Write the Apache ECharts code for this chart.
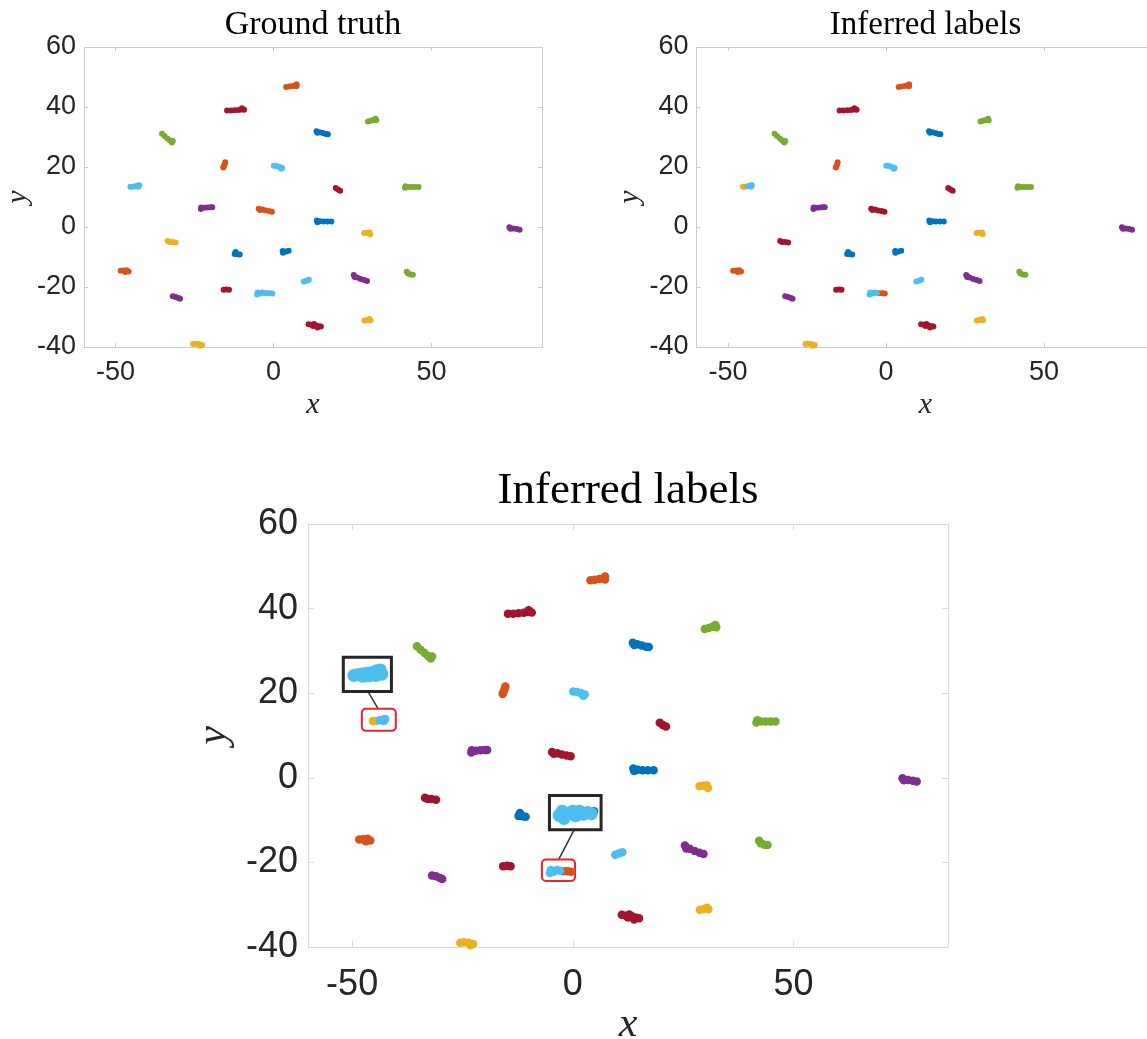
<!DOCTYPE html>
<html><head><meta charset="utf-8">
<script src="https://cdn.jsdelivr.net/npm/echarts@6/dist/echarts.min.js"></script>
<style>html,body{margin:0;padding:0;background:#fff}#c{width:1147px;height:1039px}</style>
</head><body><div id="c"></div><script>
// ---- data ----
const colorNames = ['blue','orange','yellow','purple','green','lightblue','darkred'];
const palette = ['#0072BD','#D95319','#EDB120','#7E2F8E','#77AC30','#4DBEEE','#A2142F'];
const xTicks = [-50, 0, 50];
const yTicks = [-40, -20, 0, 20, 40, 60];
const xRange = [-60, 85];
const yRange = [-40, 60];
const panelTitles = ['Ground truth', 'Inferred labels', 'Inferred labels'];

// sampled points of each cluster (x, y)
const clusterPoints = [
  [[4.0,46.7],[5.0,46.8],[6.0,47.0],[6.9,47.2],[7.3,47.6],[7.3,46.9]],
  [[-14.7,38.8],[-13.5,38.8],[-12.3,38.9],[-11.1,39.0],[-10.2,39.2],[-10.0,39.6],[-9.3,39.1]],
  [[29.9,35.2],[30.8,35.4],[31.6,35.7],[32.3,36.1],[32.5,35.6]],
  [[13.6,31.9],[13.9,31.4],[14.6,31.6],[15.6,31.3],[16.6,31.0],[17.2,30.9]],
  [[-35.3,31.1],[-34.5,30.3],[-33.6,29.5],[-32.8,28.8],[-32.2,28.2],[-31.9,28.7]],
  [[-15.3,21.6],[-15.5,20.8],[-15.8,20.1],[-15.9,19.8]],
  [[0.1,20.4],[1.0,20.3],[1.9,20.0],[2.7,19.7],[2.4,19.4]],
  [[-45.3,13.4],[-44.6,13.4]],
  [[-43.8,13.6],[-43.0,13.8],[-42.5,13.9],[-42.8,13.4]],
  [[19.7,13.0],[20.4,12.5],[21.1,12.1]],
  [[41.6,13.1],[41.8,13.6],[42.7,13.3],[43.7,13.3],[44.8,13.3],[45.9,13.3]],
  [[-23.0,6.0],[-22.9,6.5],[-22.0,6.4],[-21.0,6.5],[-20.0,6.6],[-19.4,6.6]],
  [[-4.7,6.1],[-4.3,5.7],[-3.5,5.8],[-2.5,5.5],[-1.4,5.3],[-0.5,5.1]],
  [[13.7,2.2],[13.9,1.6],[14.7,1.9],[15.8,1.8],[17.0,1.8],[18.3,1.8]],
  [[28.7,-2.0],[29.6,-1.9],[30.4,-1.8],[30.6,-2.4]],
  [[74.7,-0.1],[75.0,-0.6],[75.9,-0.5],[77.0,-0.7],[77.9,-0.9]],
  [[-33.5,-4.7],[-32.9,-5.0],[-32.0,-5.0],[-31.0,-5.2]],
  [[-12.0,-8.3],[-12.3,-9.0],[-11.4,-9.1],[-10.7,-9.2]],
  [[2.9,-8.0],[3.0,-8.6],[3.9,-8.2],[4.8,-7.9]],
  [[-48.4,-14.6],[-47.5,-14.5],[-46.5,-14.4],[-45.9,-14.8],[-46.9,-15.0]],
  [[9.6,-18.2],[10.4,-17.9],[11.2,-17.6]],
  [[25.4,-16.0],[25.7,-16.7],[26.5,-16.8],[27.6,-17.3],[28.7,-17.7],[29.6,-18.0]],
  [[42.2,-14.9],[42.6,-15.5],[43.4,-15.8],[44.1,-15.9]],
  [[-31.9,-23.1],[-31.0,-23.3],[-30.1,-23.7],[-29.6,-23.9]],
  [[-15.8,-20.9],[-14.9,-20.8],[-14.1,-20.9]],
  [[-5.2,-22.5],[-5.0,-21.8],[-4.3,-22.2],[-3.6,-21.8],[-2.9,-22.0]],
  [[-2.1,-22.1],[-1.2,-22.1],[-0.4,-22.2]],
  [[11.1,-32.4],[12.0,-32.6],[12.8,-32.3],[13.5,-32.8],[14.4,-33.1],[15.0,-33.2],[13.9,-33.5],[12.5,-33.0]],
  [[28.8,-31.2],[29.6,-31.0],[30.4,-30.7],[30.7,-31.1]],
  [[-25.5,-39.0],[-24.6,-38.9],[-23.6,-39.0],[-22.6,-39.3],[-23.2,-39.6]]
];
// colour index per cluster (index into colorNames)
const truthLabels    = [1,6,4,0,4,1,5,5,5,6,4,3,1,0,2,3,2,0,0,1,5,3,4,3,6,5,5,6,2,2];
const inferredLabels = [1,6,4,0,4,1,5,2,5,6,4,3,6,0,2,3,6,0,0,1,5,3,4,3,6,5,1,6,2,2];

// magnified views shown in the insets (light-blue parts)
const insetBlobA = [[-49.6,24.2],[-48.6,24.4],[-47.5,24.6],[-46.5,24.7],[-45.5,24.9],[-44.5,25.3],[-43.6,25.5],[-43.3,24.5],[-44.6,24.2],[-46.2,24.1],[-47.6,24.0]];
const insetBlobB = [[-3.1,-8.9],[-2.4,-7.9],[-2.0,-9.6],[-1.0,-8.5],[0.0,-7.9],[0.6,-9.0],[1.5,-7.9],[2.4,-8.6],[3.3,-8.2],[4.2,-8.5]];
// boxes: [x1, x2, y1, y2]
const insetBoxes  = [[-52.0,-41.1,20.4,28.5],[-5.3,6.4,-12.3,-4.2]];
const sourceBoxes = [[-47.8,-40.1,11.1,16.3],[-7.0,0.5,-24.4,-19.3]];
const connectors  = [[-46.4,-44.1,20.4,16.3],[0.3,-3.2,-12.3,-19.3]];

// ---- layout ----
const grids = [
  {left: 84, top: 47, width: 458, height: 300, outerBoundsMode: 'none', containLabel: false},
  {left: 696.5, top: 47, width: 458, height: 300, outerBoundsMode: 'none', containLabel: false},
  {left: 308, top: 524, width: 640, height: 423, outerBoundsMode: 'none', containLabel: false}
];
const styleSets = [
  {tick: 27, name: 30, tickLen: 4, xMargin: 12, yMargin: 8, xGap: 43, yGap: 51, sym: 6, blob: 0, axis: '#CCCCCC', title: 34, titleY: 25},
  {tick: 27, name: 30, tickLen: 4, xMargin: 12, yMargin: 8, xGap: 43, yGap: 51, sym: 6, blob: 0, axis: '#CCCCCC', title: 33, titleY: 25},
  {tick: 36, name: 42, tickLen: 6, xMargin: 20, yMargin: 10, xGap: 57, yGap: 70, sym: 8.5, blob: 13, axis: '#DADADA', title: 45, titleY: 491}
];

const xAxis = [], yAxis = [], series = [], graphic = [];
grids.forEach((g, gi) => {
  const s = styleSets[gi];
  const common = {
    type: 'value', gridIndex: gi, splitLine: {show: false},
    axisLine: {show: true, onZero: false, lineStyle: {color: s.axis, width: 1}},
    axisTick: {show: true, inside: true, length: s.tickLen, lineStyle: {color: s.axis}}
  };
  xAxis.push(Object.assign({}, common, {
    position: 'bottom', min: xRange[0], max: xRange[1],
    axisTick: Object.assign({}, common.axisTick, {customValues: xTicks}),
    axisLabel: {customValues: xTicks, fontSize: s.tick, color: '#262626', fontFamily: 'Liberation Sans', margin: s.xMargin},
    name: 'x', nameLocation: 'middle', nameGap: s.xGap,
    nameTextStyle: {fontFamily: 'Liberation Serif', fontStyle: 'italic', fontSize: s.name, color: '#262626'}
  }));
  xAxis.push(Object.assign({}, common, {
    position: 'top', min: xRange[0], max: xRange[1],
    axisTick: Object.assign({}, common.axisTick, {customValues: xTicks}),
    axisLabel: {show: false}
  }));
  yAxis.push(Object.assign({}, common, {
    position: 'left', min: yRange[0], max: yRange[1],
    axisTick: Object.assign({}, common.axisTick, {customValues: yTicks}),
    axisLabel: {customValues: yTicks, fontSize: s.tick, color: '#262626', fontFamily: 'Liberation Sans', margin: s.yMargin},
    name: 'y', nameLocation: 'middle', nameGap: s.yGap,
    nameTextStyle: {fontFamily: 'Liberation Serif', fontStyle: 'italic', fontSize: s.name, color: '#262626'}
  }));
  yAxis.push(Object.assign({}, common, {
    position: 'right', min: yRange[0], max: yRange[1],
    axisTick: Object.assign({}, common.axisTick, {customValues: yTicks}),
    axisLabel: {show: false}
  }));
  graphic.push({
    type: 'text', x: g.left + g.width / 2, y: s.titleY,
    style: {text: panelTitles[gi], fontFamily: 'Liberation Serif', fontSize: s.title, fill: '#000',
      align: 'center', verticalAlign: 'middle'}
  });
  const labels = gi === 0 ? truthLabels : inferredLabels;
  colorNames.forEach((cn, ci) => {
    const data = [];
    clusterPoints.forEach((pts, k) => { if (labels[k] === ci) pts.forEach(p => data.push(p)); });
    series.push({
      type: 'scatter', name: cn + '-' + gi, xAxisIndex: gi * 2, yAxisIndex: gi * 2,
      data: data, symbol: 'circle', symbolSize: s.sym,
      itemStyle: {color: palette[ci], opacity: 1}, silent: true, animation: false
    });
  });
});

function boxSeries(boxes, color, lw, radius) {
  return {
    type: 'custom', xAxisIndex: 4, yAxisIndex: 4, clip: false, silent: true, animation: false,
    encode: {x: [0, 1], y: [2, 3]},
    data: boxes,
    renderItem: (params, api) => {
      const p1 = api.coord([api.value(0), api.value(3)]);
      const p2 = api.coord([api.value(1), api.value(2)]);
      return {type: 'rect', shape: {x: p1[0], y: p1[1], width: p2[0] - p1[0], height: p2[1] - p1[1], r: radius},
        style: {fill: 'rgba(255,255,255,0)', stroke: color, lineWidth: lw}};
    }
  };
}
series.push({
  type: 'custom', xAxisIndex: 4, yAxisIndex: 4, clip: false, silent: true, animation: false,
  encode: {x: [0, 1], y: [2, 3]}, data: connectors,
  renderItem: (params, api) => {
    const a = api.coord([api.value(0), api.value(2)]);
    const b = api.coord([api.value(1), api.value(3)]);
    return {type: 'line', shape: {x1: a[0], y1: a[1], x2: b[0], y2: b[1]}, style: {stroke: '#333', lineWidth: 1.5}};
  }
});
series.push(boxSeries(insetBoxes, '#262626', 3, 0));
series.push(boxSeries(sourceBoxes, '#F0222A', 2, 4));
[insetBlobA, insetBlobB].forEach(blob => series.push({
  type: 'scatter', xAxisIndex: 4, yAxisIndex: 4, data: blob, symbol: 'circle', symbolSize: styleSets[2].blob,
  itemStyle: {color: palette[5], opacity: 1}, silent: true, animation: false
}));

const chart = echarts.init(document.getElementById('c'), null, {renderer: 'canvas'});
chart.setOption({animation: false, backgroundColor: '#fff', grid: grids, xAxis, yAxis, series, graphic});
</script></body></html>
